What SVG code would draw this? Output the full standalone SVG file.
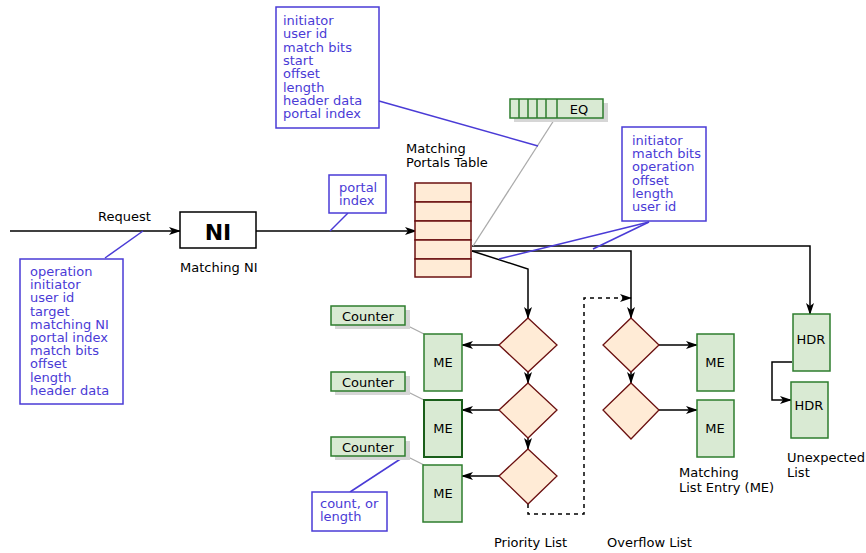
<svg xmlns="http://www.w3.org/2000/svg" width="866" height="553" viewBox="0 0 866 553">
<defs>
<marker id="arr" viewBox="0 0 12 8" refX="11" refY="4" markerWidth="12" markerHeight="8" markerUnits="userSpaceOnUse" orient="auto">
<path d="M0,0 L12,4 L0,8 L3,4 z" fill="#000"/>
</marker>
</defs>
<style>
text{font-family:"DejaVu Sans",Verdana,sans-serif;font-size:13px;fill:#000}
.note text{fill:#4a3bd6}
.nb{fill:#fff;stroke:#4a3bd6;stroke-width:1.5}
.nl{stroke:#4a3bd6;stroke-width:1.5;fill:none}
.gr{fill:#d9ead3;stroke:#2e7d2e;stroke-width:1.5}
.sh{fill:#d6d6d6}
.dm{fill:#ffebd6;stroke:#6b1010;stroke-width:1.3}
.c{stroke:#000;stroke-width:1.5;fill:none}
.gl{stroke:#aaa;stroke-width:1.3;fill:none}
.mid{text-anchor:middle}
</style>

<g id="connectors">
<path class="c" d="M10,231 H180" marker-end="url(#arr)"/>
<path class="c" d="M256,231 H416" marker-end="url(#arr)"/>
<path class="c" d="M472,246 H810 V314" marker-end="url(#arr)"/>
<path class="c" d="M472,251 H631 V318" marker-end="url(#arr)"/>
<path class="c" d="M472,251 L528,269 V318" marker-end="url(#arr)"/>
<path class="c" d="M528,372 V383" marker-end="url(#arr)"/>
<path class="c" d="M528,438 V449" marker-end="url(#arr)"/>
<path class="c" d="M631,372 V383" marker-end="url(#arr)"/>
<path class="c" d="M499,345 H462" marker-end="url(#arr)"/>
<path class="c" d="M499,410 H462" marker-end="url(#arr)"/>
<path class="c" d="M499,476 H462" marker-end="url(#arr)"/>
<path class="c" d="M659,345 H697" marker-end="url(#arr)"/>
<path class="c" d="M659,410 H697" marker-end="url(#arr)"/>
<path class="c" d="M792,362 H772 V400 H791" marker-end="url(#arr)"/>
<path class="c" d="M528,504 V514 H584 V298 H631" stroke-dasharray="4,4" marker-end="url(#arr)"/>
<path class="gl" d="M556,117 L473,246"/>
<path class="gl" d="M406,325 L424,334"/>
<path class="gl" d="M406,391 L424,400"/>
<path class="gl" d="M406,456 L424,465"/>
<path class="nl" d="M105,258 L143,231"/>
<path class="nl" d="M348,213 L330,231"/>
<path class="nl" d="M379,101 L538,146"/>
<path class="nl" d="M649,222 L499,259"/>
<path class="nl" d="M649,222 L593,249"/>
<path class="nl" d="M350,492 L405,456"/>
</g>

<g id="ni">
<rect x="180" y="212" width="76" height="36" fill="#fff" stroke="#000" stroke-width="1.5"/>
<text x="218" y="240" class="mid" style="font-size:22px;font-weight:bold">NI</text>
<text x="180" y="272">Matching NI</text>
</g>
<text x="98" y="221">Request</text>

<g id="request-note" class="note">
<rect class="nb" x="20" y="259" width="103" height="145"/>
<text x="30" y="276">operation<tspan x="30" dy="13.2">initiator</tspan><tspan x="30" dy="13.2">user id</tspan><tspan x="30" dy="13.2">target</tspan><tspan x="30" dy="13.2">matching NI</tspan><tspan x="30" dy="13.2">portal index</tspan><tspan x="30" dy="13.2">match bits</tspan><tspan x="30" dy="13.2">offset</tspan><tspan x="30" dy="13.2">length</tspan><tspan x="30" dy="13.2">header data</tspan></text>
</g>

<g id="portal-note" class="note">
<rect class="nb" x="329" y="175" width="57" height="38"/>
<text x="339" y="192">portal<tspan x="339" dy="13">index</tspan></text>
</g>

<g id="event-note" class="note">
<rect class="nb" x="276" y="7" width="103" height="121"/>
<text x="283" y="25">initiator<tspan x="283" dy="13.3">user id</tspan><tspan x="283" dy="13.3">match bits</tspan><tspan x="283" dy="13.3">start</tspan><tspan x="283" dy="13.3">offset</tspan><tspan x="283" dy="13.3">length</tspan><tspan x="283" dy="13.3">header data</tspan><tspan x="283" dy="13.3">portal index</tspan></text>
</g>

<g id="match-note" class="note">
<rect class="nb" x="622" y="127" width="84" height="94"/>
<text x="632" y="145">initiator<tspan x="632" dy="13.2">match bits</tspan><tspan x="632" dy="13.2">operation</tspan><tspan x="632" dy="13.2">offset</tspan><tspan x="632" dy="13.2">length</tspan><tspan x="632" dy="13.2">user id</tspan></text>
</g>

<g id="count-note" class="note">
<rect class="nb" x="312" y="492" width="75" height="39"/>
<text x="320" y="508">count, or<tspan x="320" dy="13">length</tspan></text>
</g>

<g id="portals-table">
<text x="406" y="153">Matching<tspan x="406" dy="14">Portals Table</tspan></text>
<g fill="#ffebd6" stroke="#6b1010" stroke-width="1.5">
<rect x="415" y="183" width="56" height="19"/>
<rect x="415" y="202" width="56" height="19"/>
<rect x="415" y="221" width="56" height="19"/>
<rect x="415" y="240" width="56" height="19"/>
<rect x="415" y="259" width="56" height="18"/>
</g>
</g>

<g id="eq">
<rect class="sh" x="514" y="103" width="94" height="19"/>
<rect class="gr" x="510" y="99" width="93" height="19"/>
<path d="M519,99 V118 M528,99 V118 M537,99 V118 M546,99 V118 M557,99 V118" stroke="#2e7d2e" stroke-width="1.5"/>
<text x="579" y="114" class="mid">EQ</text>
</g>

<g id="counter1">
<rect class="sh" x="335" y="310" width="75" height="19"/>
<rect class="gr" x="331" y="306" width="74" height="19"/>
<text x="368" y="321" class="mid">Counter</text>
</g>
<g id="counter2">
<rect class="sh" x="335" y="376" width="75" height="19"/>
<rect class="gr" x="331" y="372" width="74" height="19"/>
<text x="368" y="387" class="mid">Counter</text>
</g>
<g id="counter3">
<rect class="sh" x="335" y="441" width="75" height="19"/>
<rect class="gr" x="331" y="437" width="74" height="19"/>
<text x="368" y="452" class="mid">Counter</text>
</g>

<g id="me-p1"><rect class="gr" x="424" y="334" width="38" height="57"/><text x="443" y="367" class="mid">ME</text></g>
<g id="me-p2"><rect class="gr" x="424" y="400" width="38" height="57" style="stroke:#1a5e1a;stroke-width:2"/><text x="443" y="433" class="mid">ME</text></g>
<g id="me-p3"><rect class="gr" x="423" y="465" width="39" height="57"/><text x="443" y="498" class="mid">ME</text></g>

<g id="pd1"><path class="dm" d="M528,318 L557,345 L528,372 L499,345 Z"/></g>
<g id="pd2"><path class="dm" d="M528,383 L557,410 L528,438 L499,410 Z"/></g>
<g id="pd3"><path class="dm" d="M528,449 L557,476 L528,504 L499,476 Z"/></g>
<text x="494" y="547">Priority List</text>

<g id="od1"><path class="dm" d="M631,318 L659,345 L631,372 L603,345 Z"/></g>
<g id="od2"><path class="dm" d="M631,383 L659,410 L631,439 L603,410 Z"/></g>
<text x="607" y="547">Overflow List</text>

<g id="me-o1"><rect class="gr" x="697" y="334" width="37" height="57"/><text x="715" y="367" class="mid">ME</text></g>
<g id="me-o2"><rect class="gr" x="697" y="400" width="37" height="57"/><text x="715" y="433" class="mid">ME</text></g>
<text x="679" y="477">Matching<tspan x="679" dy="15">List Entry (ME)</tspan></text>

<g id="hdr1"><rect class="gr" x="793" y="314" width="37" height="57"/><text x="811" y="344" class="mid">HDR</text></g>
<g id="hdr2"><rect class="gr" x="791" y="382" width="37" height="56"/><text x="809" y="410" class="mid">HDR</text></g>
<text x="787" y="462">Unexpected<tspan x="787" dy="15">List</tspan></text>
</svg>
